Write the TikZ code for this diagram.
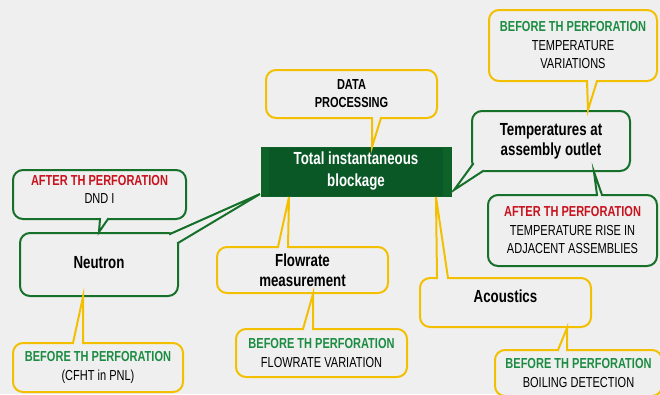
\documentclass[tikz,border=0pt]{standalone}
\usepackage{fontspec}
\setmainfont{Liberation Sans}[FakeStretch=0.76]
\usepackage{tikz}
\usetikzlibrary{calc,positioning}
\usepackage{xcolor}

\definecolor{bgrey}{RGB}{239,239,239}
\definecolor{callgreen}{RGB}{22,112,42}
\definecolor{callyellow}{RGB}{242,192,0}
\definecolor{blkgreen}{RGB}{10,88,38}
\definecolor{blkstripe}{RGB}{14,98,40}
\definecolor{txtred}{RGB}{200,18,30}
\definecolor{txtgreen}{RGB}{28,140,66}

\tikzset{
  call/.style={rectangle, rounded corners=10pt, line width=2pt, outer sep=0pt, fill=bgrey, align=center, inner sep=2pt},
  gcall/.style={call, draw=callgreen},
  ycall/.style={call, draw=callyellow},
  big/.style={font=\fontsize{17.5}{20}\selectfont\bfseries},
  small/.style={font=\fontsize{14.5}{18.5}\selectfont},
  smallb/.style={font=\fontsize{14.5}{18}\selectfont\bfseries},
  blk/.style={rectangle, fill=blkgreen, draw=blkstripe, line width=1pt, outer sep=0pt,
    minimum width=190pt, minimum height=49pt, text=white, align=center,
    font=\fontsize{17.5}{22}\selectfont\bfseries,
    path picture={
      \fill[blkstripe] (path picture bounding box.south west) rectangle ([xshift=8pt]path picture bounding box.north west);
      \fill[blkstripe] (path picture bounding box.south east) rectangle ([xshift=-8pt]path picture bounding box.north east);
    }},
}
\newcommand{\afterth}{\textcolor{txtred}{\bfseries AFTER TH PERFORATION}}
\newcommand{\beforeth}{\textcolor{txtgreen}{\bfseries BEFORE TH PERFORATION}}
% tail of a callout: base a, base b, tip, colour
\newcommand{\calltail}[4]{%
  \coordinate (ta) at (#1); \coordinate (tb) at (#2); \coordinate (tt) at (#3);
  \fill[bgrey] ($(ta)!-4pt!(tt)$) -- ($(tb)!-4pt!(tt)$) -- (tt) -- cycle;
  \draw[#4, line width=2pt, line join=miter] ($(ta)!-1pt!(tt)$) -- (tt) -- ($(tb)!-1pt!(tt)$);
}

\begin{document}
\begin{tikzpicture}[x=1pt, y=-1pt]
\useasboundingbox (0,0) rectangle (660,394);
\fill[bgrey] (0,0) rectangle (660,394);

% centre
\node (blk) [blk] at (356,171.5) {Total instantaneous\\blockage};

% callouts
\node (dp) [ycall, smallb, minimum width=171pt, minimum height=48pt] at (351.5,94) {DATA\\PROCESSING};
\node (temp) [gcall, big, minimum width=158pt, minimum height=60pt] at (551,141) {Temperatures at\\assembly outlet};
\node (tv) [ycall, small, minimum width=168pt, minimum height=71pt] at (573,45.5) {\beforeth\\TEMPERATURE\\VARIATIONS};
\node (tr) [gcall, small, minimum width=169pt, minimum height=71pt] at (572.5,230.5) {\afterth\\TEMPERATURE RISE IN\\ADJACENT ASSEMBLIES};
\node (neu) [gcall, big, minimum width=158pt, minimum height=63pt, text depth=4pt] at (99,264.5) {Neutron};
\node (dnd) [gcall, small, minimum width=173pt, minimum height=49pt, text depth=10pt] at (99.5,194.5) {\afterth\\DND I};
\node (cfht) [ycall, small, minimum width=170pt, minimum height=49pt] at (98,367.5) {\beforeth\\(CFHT in PNL)};
\node (flow) [ycall, big, minimum width=171pt, minimum height=46pt] at (302.5,270) {Flowrate\\measurement};
\node (fv) [ycall, small, minimum width=171pt, minimum height=48pt] at (321.5,353) {\beforeth\\FLOWRATE VARIATION};
\node (aco) [ycall, big, minimum width=171pt, minimum height=49pt, text depth=12pt] at (505.5,302.5) {Acoustics};
\node (bd) [ycall, small, minimum width=167pt, minimum height=46pt] at (578.5,373) {\beforeth\\BOILING DETECTION};

% tails
\calltail{$(dp.south west)+(106,0)$}{$(dp.south west)+(115,0)$}{$(blk.north west)+(111,0)$}{callyellow}
\calltail{$(temp.south west)+(1,-7)$}{$(temp.south west)+(11,0)$}{$(blk.south east)+(3,-6)$}{callgreen}
\calltail{$(tv.south west)+(98,0)$}{$(tv.south west)+(108,0)$}{$(temp.north west)+(116,-1)$}{callyellow}
\calltail{$(tr.north west)+(109,0)$}{$(tr.north west)+(114,0)$}{$(temp.south west)+(122,1)$}{callgreen}
\calltail{$(neu.north east)+(-8,1)$}{$(neu.north east)+(0,10)$}{$(blk.south west)+(-1,-2)$}{callgreen}
\calltail{$(dnd.south west)+(87,0)$}{$(dnd.south west)+(95,0)$}{$(neu.north west)+(79,-1)$}{callgreen}
\calltail{$(cfht.north west)+(60,0)$}{$(cfht.north west)+(70,0)$}{$(neu.south west)+(63,1)$}{callyellow}
\calltail{$(flow.north west)+(61,0)$}{$(flow.north west)+(71,0)$}{$(blk.south west)+(28,1)$}{callyellow}
\calltail{$(fv.north west)+(67,0)$}{$(fv.north west)+(77,0)$}{$(flow.south west)+(96,1)$}{callyellow}
\calltail{$(aco.north west)+(17,0)$}{$(aco.north west)+(28,0)$}{$(blk.south west)+(175,1)$}{callyellow}
\calltail{$(bd.north west)+(63,0)$}{$(bd.north west)+(72,0)$}{$(aco.south west)+(147,1)$}{callyellow}
\end{tikzpicture}
\end{document}
